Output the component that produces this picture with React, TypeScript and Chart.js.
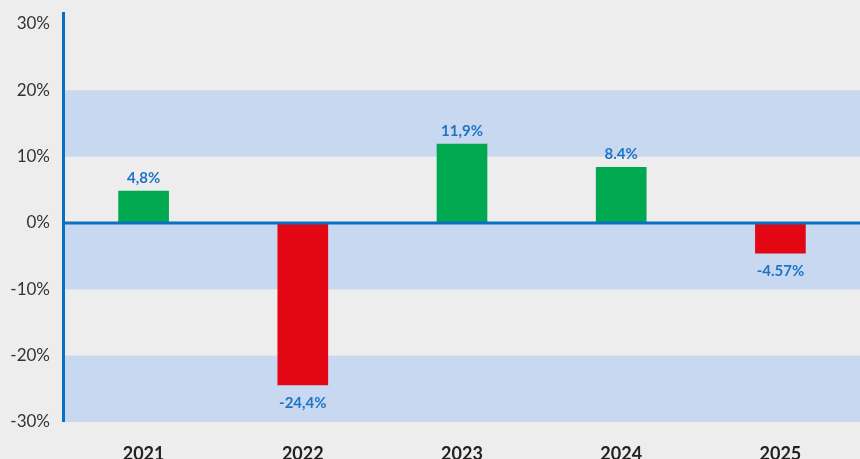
import React, { useEffect, useRef } from "react";
import { Chart, registerables } from "chart.js";

Chart.register(...registerables);

const categories = ["2021", "2022", "2023", "2024", "2025"];
const returns = [4.8, -24.4, 11.9, 8.4, -4.57];
const valueLabels = ["4,8%", "-24,4%", "11,9%", "8.4%", "-4.57%"];
const yTicks = [-30, -20, -10, 0, 10, 20, 30];
const bandRanges: [number, number][] = [
  [10, 20],
  [-10, 0],
  [-30, -20],
];

const BG = "#ededed";
const BAND = "#c8d8f0";
const AXIS_BLUE = "#0a6fbf";
const LABEL_BLUE = "#1f74c4";
const GREEN = "#00a84f";
const RED = "#e30613";
const FONT = "Lato, 'Open Sans', sans-serif";

export default function App() {
  const ref = useRef<HTMLCanvasElement | null>(null);

  useEffect(() => {
    document.body.style.margin = "0";
    const canvas = ref.current;
    if (!canvas) return;

    const decor = {
      id: "decor",
      beforeDraw(chart: any) {
        const { ctx, chartArea, scales } = chart;
        const y = scales.y;
        ctx.save();
        ctx.fillStyle = BG;
        ctx.fillRect(0, 0, chart.width, chart.height);
        ctx.fillStyle = BAND;
        bandRanges.forEach(([a, b]) => {
          const y1 = y.getPixelForValue(b);
          const y2 = y.getPixelForValue(a);
          ctx.fillRect(chartArea.left, y1, chart.width - chartArea.left, y2 - y1);
        });
        ctx.restore();
      },
      afterDatasetsDraw(chart: any) {
        const { ctx, chartArea, scales } = chart;
        const y = scales.y;
        const meta = chart.getDatasetMeta(0);
        ctx.save();
        const y0 = y.getPixelForValue(0);
        ctx.strokeStyle = AXIS_BLUE;
        ctx.lineWidth = 3;
        ctx.beginPath();
        ctx.moveTo(chartArea.left, y0);
        ctx.lineTo(chart.width, y0);
        ctx.stroke();
        ctx.beginPath();
        ctx.moveTo(chartArea.left - 0.5, chartArea.top);
        ctx.lineTo(chartArea.left - 0.5, chartArea.bottom);
        ctx.stroke();
        ctx.fillStyle = LABEL_BLUE;
        ctx.font = `bold 15px ${FONT}`;
        ctx.textAlign = "center";
        ctx.textBaseline = "middle";
        meta.data.forEach((bar: any, i: number) => {
          const v = returns[i];
          const yy = v >= 0 ? bar.y - 13 : bar.y + 18;
          ctx.fillText(valueLabels[i], bar.x, yy);
        });
        ctx.restore();
      },
    };

    const chart = new Chart(canvas, {
      type: "bar",
      data: {
        labels: categories,
        datasets: [
          {
            data: returns,
            backgroundColor: returns.map((v) => (v >= 0 ? GREEN : RED)),
            barThickness: 50,
            borderWidth: 0,
          },
        ],
      },
      options: {
        animation: false,
        responsive: false,
        maintainAspectRatio: false,
        layout: { padding: { top: 12, right: 0, left: 0, bottom: 0 } },
        plugins: {
          legend: { display: false },
          tooltip: { enabled: false },
        },
        scales: {
          x: {
            grid: { display: false, drawTicks: false },
            border: { display: false },
            ticks: {
              color: "#222",
              font: { family: FONT, size: 18, weight: "bold" },
              padding: 21,
            },
            afterFit(scale: any) {
              scale.height = 37;
              scale.paddingLeft = 0;
              scale.paddingRight = 0;
            },
          },
          y: {
            min: -30,
            max: 31.8,
            grid: { display: false, drawTicks: false },
            border: { display: false },
            afterBuildTicks(scale: any) {
              scale.ticks = yTicks.map((v) => ({ value: v }));
            },
            ticks: {
              color: "#333",
              font: { family: FONT, size: 17 },
              padding: 14,
              callback: (v: any) => `${v}%`,
            },
            afterFit(scale: any) {
              scale.width = 64;
              scale.paddingTop = 0;
              scale.paddingBottom = 0;
            },
          },
        },
      },
      plugins: [decor],
    });

    return () => chart.destroy();
  }, []);

  return (
    <div style={{ width: 860, height: 459 }}>
      <canvas ref={ref} width={860} height={459} style={{ display: "block" }} />
    </div>
  );
}
